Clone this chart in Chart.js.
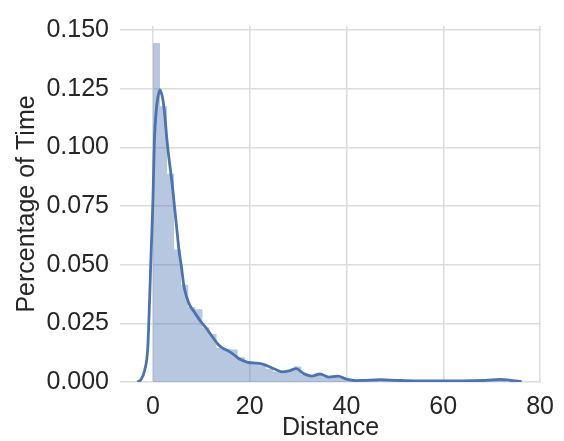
<!DOCTYPE html>
<html>
<head>
<meta charset="utf-8">
<script src="https://cdn.jsdelivr.net/npm/chart.js@4.4.1/dist/chart.umd.min.js"></script>
<style>
  html, body { margin: 0; padding: 0; background: #fff; }
  #wrap { width: 564px; height: 441px; }
</style>
</head>
<body>
<div id="wrap"><canvas id="dist-chartcanvas"></canvas></div>
<script>
// histogram: 50 bins starting at 0
const binStart = 0;
const binWidth = 1.46;
const binDensity = [
    0.1445, 0.1175, 0.0887, 0.0565, 0.0414, 0.0320, 0.0310, 0.0232, 0.0205, 0.0145,
    0.0142, 0.0138, 0.0105, 0.0085, 0.0078, 0.0070, 0.0056, 0.0045, 0.0040, 0.0050,
    0.0066, 0.0031, 0.0025, 0.0038, 0.0020, 0.0022, 0.0026, 0.0012, 0.0006, 0.0004,
    0.0008, 0.0010, 0.0006, 0.0004, 0.0003, 0.0005, 0.0004, 0.0002, 0.0003, 0.0002,
    0.0003, 0.0002, 0.0003, 0.0004, 0.0003, 0.0004, 0.0006, 0.0009, 0.0011, 0.0008
];

// kernel density estimate
const kdeX = [-3.2, -2.5, -1.7, -1.06, -0.7, -0.37, 0, 0.3, 0.65, 1.0, 1.46, 2.0, 2.34, 3.0,
    4.0, 4.4, 5.0, 5.4, 5.9, 6.4, 7.0, 7.8, 8.5, 9.8, 11, 12.2, 13.5, 14.5, 15.5, 16.5,
    17.9, 19.6, 21.6, 23, 24.3, 25.7, 26.7, 28.1, 29.6, 31.1, 32.8, 34.5, 36.3, 38.2,
    40, 42, 43.6, 47, 50.4, 54, 57.2, 64, 68.7, 71.8, 73.8, 76.2];
const kdeY = [0, 0.001, 0.005, 0.0146, 0.034, 0.055, 0.077, 0.1024, 0.1148, 0.121, 0.1245, 0.121, 0.116, 0.101,
    0.084, 0.076, 0.064, 0.056, 0.049, 0.041, 0.036, 0.032, 0.030, 0.026, 0.023, 0.0195, 0.016, 0.0143, 0.0133, 0.012,
    0.0098, 0.0084, 0.008, 0.0074, 0.0063, 0.005, 0.0043, 0.0047, 0.0057, 0.0036, 0.0025, 0.0034, 0.0021, 0.0025,
    0.0012, 0.0006, 0.0007, 0.001, 0.0007, 0.0005, 0.0005, 0.0005, 0.0007, 0.0011, 0.0007, 0.0002];

const yTicks = [0, 0.025, 0.05, 0.075, 0.1, 0.125, 0.15];
const xTicks = [0, 20, 40, 60, 80];

const font = { family: '"Liberation Sans", Arial, sans-serif', size: 25 };
const titleFont = { family: '"Liberation Sans", Arial, sans-serif', size: 25, lineHeight: 1.0 };
const textColor = '#262626';
const gridColor = '#dcdcdc';

// histogram drawn as one stepped area so neighbouring bins share edges without seams
const steps = binDensity.map((v, i) => ({ x: binStart + binWidth * i, y: v }));
steps.push({ x: binStart + binWidth * binDensity.length, y: binDensity[binDensity.length - 1] });
steps.push({ x: binStart + binWidth * binDensity.length, y: 0 });
const kde = kdeX.map((x, i) => ({ x: x, y: kdeY[i] }));

const ctx = document.getElementById('dist-chartcanvas');
const myChart = new Chart(ctx, {
    type: 'line',
    data: {
        datasets: [{
            label: 'kde',
            data: kde,
            borderColor: '#4c72b0',
            borderWidth: 2.8,
            pointRadius: 0,
            cubicInterpolationMode: 'monotone',
            fill: false,
            order: 0,
        }, {
            label: 'hist',
            data: steps,
            stepped: 'before',
            borderWidth: 0,
            borderColor: 'rgba(0, 0, 0, 0)',
            backgroundColor: 'rgba(76, 114, 176, 0.4)',
            pointRadius: 0,
            fill: 'origin',
            order: 1,
        }]
    },
    options: {
        responsive: true,
        maintainAspectRatio: false,
        animation: false,
        layout: {
            padding: { left: 12, right: 16, top: 16, bottom: 0 }
        },
        plugins: {
            legend: { display: false },
            tooltip: { enabled: false },
        },
        scales: {
            x: {
                type: 'linear',
                min: -6.8,
                max: 80.2,
                afterBuildTicks: (scale) => { scale.ticks = xTicks.map(v => ({ value: v })); },
                afterFit: (scale) => { scale.height = 59; },
                border: { display: false },
                grid: { color: gridColor, lineWidth: 1.5, drawTicks: false },
                ticks: {
                    font: font,
                    color: textColor,
                    padding: 10,
                    maxRotation: 0,
                },
                title: {
                    display: true,
                    text: 'Distance',
                    font: titleFont,
                    color: textColor,
                    padding: { top: 0, bottom: 0 },
                }
            },
            y: {
                min: 0,
                max: 0.1517,
                afterBuildTicks: (scale) => { scale.ticks = yTicks.map(v => ({ value: v })); },
                afterFit: (scale) => { scale.width = 108; },
                border: { display: false },
                grid: { color: gridColor, lineWidth: 1.5, drawTicks: false },
                ticks: {
                    font: font,
                    color: textColor,
                    padding: 11,
                    callback: (v) => Number(v).toFixed(3),
                },
                title: {
                    display: true,
                    text: 'Percentage of Time',
                    font: font,
                    color: textColor,
                    padding: { top: 0, bottom: 0 },
                }
            }
        }
    }
});
</script>
</body>
</html>
